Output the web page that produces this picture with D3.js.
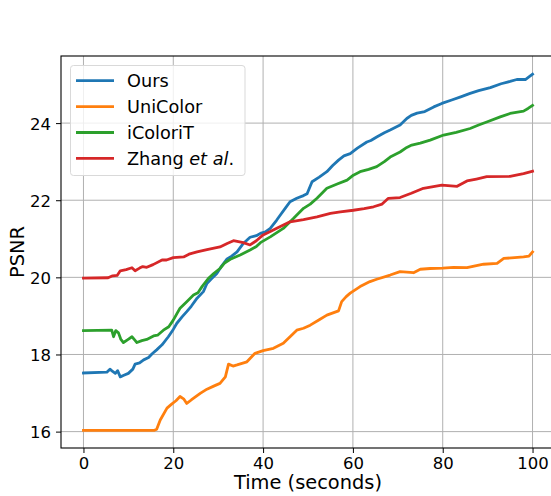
<!DOCTYPE html>
<html>
<head>
<meta charset="utf-8">
<script src="https://cdn.jsdelivr.net/npm/d3@7"></script>
<style>
  body { margin: 0; background: #fff; }
  svg { display: block; font-family: "DejaVu Sans", sans-serif; }
</style>
</head>
<body>
<svg id="chart" width="551" height="496"></svg>
<script>
// series: [time (s), PSNR]
var ours = [[0,17.52],[5.2,17.54],[5.9,17.62],[6.5,17.56],[7.1,17.51],[7.6,17.58],[8.2,17.42],[9,17.46],[10,17.51],[11,17.62],[11.5,17.75],[12.5,17.78],[13.4,17.86],[14.5,17.92],[15.3,18.02],[16.3,18.12],[17.5,18.25],[18.9,18.46],[20,18.65],[20.8,18.81],[22,18.98],[23,19.11],[24,19.25],[25.3,19.46],[26.7,19.63],[27.5,19.84],[28.5,19.96],[29.7,20.1],[30.8,20.3],[31.9,20.47],[33,20.55],[34.2,20.66],[35.6,20.88],[37.1,21.04],[38.5,21.08],[39.4,21.14],[40.5,21.18],[41.6,21.27],[43,21.48],[43.8,21.61],[45,21.8],[46,21.96],[47.5,22.05],[49,22.12],[49.8,22.17],[50.9,22.48],[52.5,22.6],[54.2,22.74],[55.5,22.9],[56.8,23.04],[58,23.15],[59.4,23.21],[61,23.35],[63.1,23.51],[64,23.55],[65.3,23.64],[67,23.75],[68.3,23.82],[70.5,23.95],[72,24.12],[73,24.2],[74.3,24.26],[76,24.3],[78,24.42],[79.8,24.51],[82,24.6],[84,24.68],[86.1,24.77],[88,24.84],[90.6,24.92],[93,25.02],[95,25.08],[96.5,25.13],[98.4,25.13],[99.2,25.2],[100,25.27]];
var uniColor = [[0,16.03],[15.7,16.03],[16.3,16.06],[17.1,16.3],[18.6,16.61],[19.7,16.72],[20.6,16.8],[21.5,16.91],[22.3,16.85],[23,16.73],[24,16.82],[26,16.99],[27.5,17.1],[29,17.18],[30.4,17.25],[31.6,17.42],[32.3,17.75],[33.3,17.7],[34.2,17.73],[36.4,17.81],[38.2,18.03],[40,18.1],[42.3,18.16],[44.5,18.29],[46,18.46],[47.5,18.63],[49,18.68],[50.5,18.76],[52.5,18.9],[54.2,19.02],[56.8,19.13],[57.5,19.37],[58.5,19.5],[59.4,19.59],[61.6,19.76],[63.8,19.89],[65.3,19.95],[68.3,20.06],[70.5,20.15],[73.5,20.12],[75,20.21],[77.2,20.23],[80,20.24],[82.4,20.26],[85.4,20.25],[89.1,20.34],[92.1,20.36],[93.6,20.49],[96,20.51],[98,20.53],[99.2,20.55],[100,20.66]];
var iColoriT = [[0,18.62],[6.3,18.63],[6.7,18.46],[7.2,18.62],[7.8,18.56],[8.3,18.4],[8.9,18.31],[9.8,18.38],[10.8,18.46],[11.4,18.38],[11.9,18.31],[13,18.36],[14.1,18.39],[15.6,18.48],[16.5,18.5],[17.8,18.63],[19,18.72],[20,18.89],[21,19.1],[21.5,19.2],[23,19.37],[24.5,19.54],[25.5,19.6],[26.4,19.76],[27.8,19.97],[29,20.1],[30.4,20.23],[31.5,20.38],[32.7,20.47],[34.9,20.58],[37.1,20.71],[38.5,20.8],[39.4,20.9],[41.6,21.05],[44.5,21.27],[46.8,21.53],[49,21.79],[50.5,21.9],[52,22.05],[54.2,22.31],[56.5,22.42],[58.7,22.52],[60.1,22.65],[61.6,22.74],[63.5,22.8],[65.3,22.87],[67,23],[68.3,23.12],[70.5,23.25],[72,23.37],[73.1,23.43],[75,23.48],[77.2,23.56],[80.2,23.69],[83,23.76],[86.1,23.86],[88,23.95],[89.8,24.03],[92.8,24.16],[95,24.25],[98,24.31],[99,24.38],[100,24.46]];
var zhang = [[0,19.98],[5.5,19.99],[6.5,20.04],[7.5,20.05],[8.2,20.17],[9.5,20.2],[10.8,20.25],[11.5,20.17],[12.5,20.24],[13.2,20.28],[14.1,20.26],[15.5,20.33],[17.5,20.45],[18.5,20.45],[20,20.51],[22.3,20.53],[23.5,20.6],[25.3,20.66],[27.5,20.72],[30.4,20.79],[32,20.88],[33.4,20.95],[35.6,20.9],[37.1,20.84],[38.5,20.95],[40,21.1],[41.5,21.18],[43.5,21.3],[46,21.44],[49,21.5],[52,21.57],[55,21.66],[57.2,21.7],[60.1,21.74],[62.5,21.78],[64.6,21.83],[66.5,21.9],[67.9,22.05],[70.5,22.07],[73,22.18],[75.7,22.31],[79.8,22.39],[83.2,22.36],[85.4,22.5],[87.5,22.55],[89.8,22.61],[95,22.62],[98,22.69],[100,22.75]];

var seriesNames = ["Ours", "UniColor", "iColoriT", "Zhang"];
var seriesData = [ours, uniColor, iColoriT, zhang];
var colors = ["#1f77b4", "#ff7f0e", "#2ca02c", "#d62728"];
var xTicks = [0, 20, 40, 60, 80, 100];
var yTicks = [16, 18, 20, 22, 24];

var svg = d3.select("#chart");
// plot box (right edge lies just past the picture, as in the reference)
var plotLeft = 61, plotRight = 555, plotTop = 56, plotBottom = 448;

var x = d3.scaleLinear().domain([-5, 105]).range([plotLeft, plotRight]);
var y = d3.scaleLinear().domain([15.575, 25.74]).range([plotBottom, plotTop]);

// grid
var grid = svg.append("g");
grid.selectAll(".gx").data(xTicks).enter().append("line")
  .attr("x1", function (d) { return x(d); })
  .attr("x2", function (d) { return x(d); })
  .attr("y1", plotTop).attr("y2", plotBottom)
  .style("stroke", "#b0b0b0").style("stroke-width", 1);
grid.selectAll(".gy").data(yTicks).enter().append("line")
  .attr("x1", plotLeft).attr("x2", plotRight)
  .attr("y1", function (d) { return y(d); })
  .attr("y2", function (d) { return y(d); })
  .style("stroke", "#b0b0b0").style("stroke-width", 1);

// lines
var line = d3.line()
  .x(function (d) { return x(d[0]); })
  .y(function (d) { return y(d[1]); });

svg.selectAll(".series").data(seriesData).enter().append("path")
  .attr("d", line)
  .style("fill", "none")
  .style("stroke", function (d, i) { return colors[i]; })
  .style("stroke-width", 2.8)
  .style("stroke-linejoin", "round")
  .style("stroke-linecap", "square");

// axes
var xAxis = svg.append("g")
  .attr("transform", "translate(0," + plotBottom + ")")
  .call(d3.axisBottom(x).tickValues(xTicks).tickSize(5).tickPadding(4).tickFormat(d3.format("d")));
var yAxis = svg.append("g")
  .attr("transform", "translate(" + plotLeft + ",0)")
  .call(d3.axisLeft(y).tickValues(yTicks).tickSize(5).tickPadding(5).tickFormat(d3.format("d")));
[xAxis, yAxis].forEach(function (a) {
  a.select(".domain").remove();
  a.selectAll("line").style("stroke", "#000").style("stroke-width", 1);
  a.selectAll("text").style("font-size", "16.5px").style("fill", "#000")
    .style("font-family", "DejaVu Sans, sans-serif");
});
yAxis.selectAll("text").attr("dy", "0.36em");

// spines
svg.append("rect")
  .attr("x", plotLeft).attr("y", plotTop)
  .attr("width", plotRight - plotLeft).attr("height", plotBottom - plotTop)
  .style("fill", "none").style("stroke", "#000").style("stroke-width", 1.1);

// axis labels
svg.append("text")
  .attr("x", (plotLeft + plotRight) / 2).attr("y", 489)
  .attr("text-anchor", "middle")
  .style("font-size", "19.4px")
  .text("Time (seconds)");
svg.append("text")
  .attr("transform", "translate(24," + (plotTop + plotBottom) / 2 + ") rotate(-90)")
  .attr("text-anchor", "middle")
  .style("font-size", "19.4px")
  .text("PSNR");

// legend
var legend = svg.append("g");
legend.append("rect")
  .attr("x", 70.5).attr("y", 65.5)
  .attr("width", 174.5).attr("height", 110)
  .attr("rx", 3)
  .style("fill", "#fff").style("fill-opacity", 0.8)
  .style("stroke", "#d9d9d9").style("stroke-width", 1);
var rows = legend.selectAll(".row").data(seriesNames).enter().append("g")
  .attr("transform", function (d, i) { return "translate(0," + (80.7 + i * 25.9) + ")"; });
rows.append("line")
  .attr("x1", 76).attr("x2", 114)
  .style("stroke", function (d, i) { return colors[i]; })
  .style("stroke-width", 2.8);
var labels = rows.append("text")
  .attr("x", 127).attr("dy", "0.36em")
  .style("font-size", "17.7px");
labels.each(function (d) {
  var t = d3.select(this);
  if (d === "Zhang") {
    t.append("tspan").text("Zhang ");
    t.append("tspan").style("font-style", "italic").text("et al");
    t.append("tspan").text(".");
  } else {
    t.text(d);
  }
});
</script>
</body>
</html>
